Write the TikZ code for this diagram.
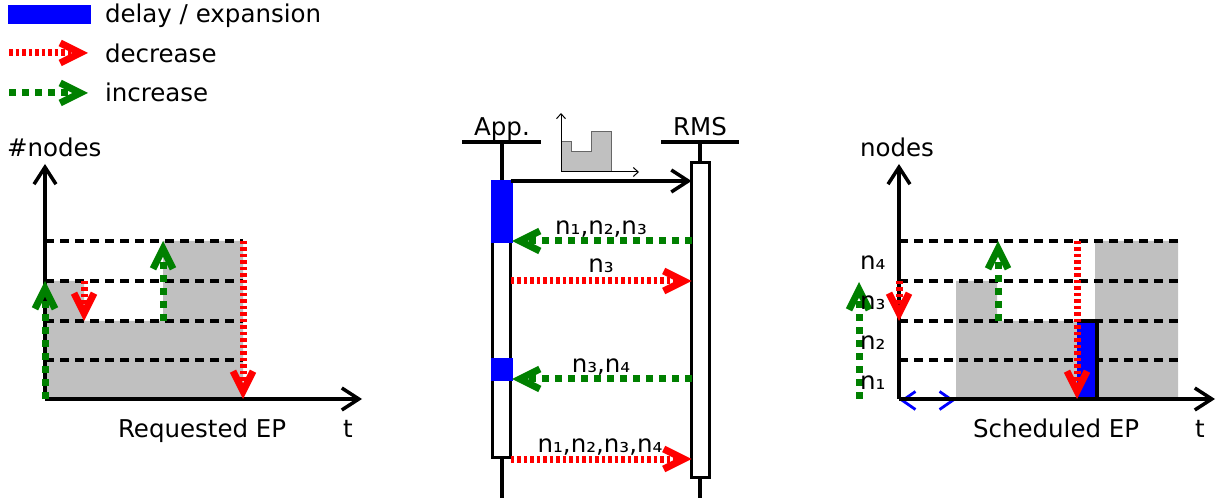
\documentclass[tikz,border=0pt]{standalone}
\usepackage{fontspec}
\setmainfont{DejaVu Sans}
\usetikzlibrary{arrows.meta}
\definecolor{incg}{HTML}{008000}
\definecolor{decr}{HTML}{FF0000}
\definecolor{dlyb}{HTML}{0000FF}
\definecolor{epgray}{HTML}{C0C0C0}
\tikzset{
  lbl/.style={inner sep=0pt, outer sep=0pt, anchor=base west},
  clbl/.style={inner sep=0pt, outer sep=0pt, anchor=base},
  axisline/.style={line width=3.5pt, -{Straight Barb[length=17pt,width=22pt,line width=3.5pt]}},
  gridline/.style={line width=3.3pt, dash pattern=on 9pt off 6pt},
  decarrow/.style={decr, line width=7pt, dash pattern=on 3.5pt off 3pt, -{Straight Barb[length=20pt,width=20pt,line width=7pt]}},
  incarrow/.style={incg, line width=7pt, dash pattern=on 7pt off 6pt, -{Straight Barb[length=20pt,width=20pt,line width=7pt]}},
  msgarrow/.style={line width=3.5pt, -{Straight Barb[length=17pt,width=22pt,line width=3.5pt]}},
  actbox/.style={draw, line width=3.5pt, fill=white, inner sep=0pt, outer sep=0pt, minimum width=18pt},
  lifeline/.style={line width=3.5pt},
  thinarrow/.style={line width=1pt, -{Straight Barb[length=5pt,width=9pt,line width=1pt]}},
  shiftarrow/.style={dlyb, line width=2pt, {Straight Barb[length=13pt,width=18pt,line width=2.8pt]}-{Straight Barb[length=13pt,width=18pt,line width=2.8pt]}}
}
\begin{document}
\begin{tikzpicture}[x=1pt,y=-1pt, font=\fontsize{24.5}{29}\selectfont]
\useasboundingbox (0,0) rectangle (1221,502);

% ---------- legend ----------
\fill[dlyb] (8,5) rectangle (91,24);
\node[lbl] (tdelay) at (105,23) {delay / expansion};
\coordinate (ldA) at (9,53);  \coordinate (ldB) at (88,53);
\coordinate (liA) at (9,93);  \coordinate (liB) at (88,93);
\draw[decarrow] (ldA) -- (ldB);
\draw[incarrow] (liA) -- (liB);
\node[lbl] (tdec) at (105,63) {decrease};
\node[lbl] (tinc) at (105,102) {increase};

% ---------- left chart: requested EP ----------
\fill[epgray] (45,399) -- (45,281) -- (84,281) -- (84,321) -- (163,321) -- (163,241) -- (243,241) -- (243,399) -- cycle;
\foreach \yy in {241,281,321,360} \draw[gridline] (45,\yy) -- (243,\yy);
\coordinate (Lo) at (45,399);
\coordinate (Lyt) at (45,164);
\coordinate (Lxt) at (362,399);
\draw[axisline] (Lo) -- (Lyt);
\draw[axisline] (Lo) -- (Lxt);
\coordinate (La1) at (45,399);  \coordinate (La2) at (45,281);
\coordinate (Lb1) at (84,281);  \coordinate (Lb2) at (84,321);
\coordinate (Lc1) at (163,321); \coordinate (Lc2) at (163,241);
\coordinate (Ld1) at (243,241); \coordinate (Ld2) at (243,399);
\draw[incarrow] (La1) -- (La2);
\draw[decarrow] (Lb1) -- (Lb2);
\draw[incarrow] (Lc1) -- (Lc2);
\draw[decarrow] (Ld1) -- (Ld2);
\node[lbl] (tnodesL) at (7,157) {\#nodes};
\node[lbl] (treq) at (118,438) {Requested EP};
\node[lbl] (ttL) at (343,438) {t};

% ---------- middle: sequence diagram ----------
\node[clbl] (tapp) at (502,136) {App.};
\node[clbl] (trms) at (700,136) {RMS};
\draw[line width=3.5pt] (462,142) -- (541,142);
\draw[line width=3.5pt] (661,142) -- (739,142);
\draw[lifeline] (502,142) -- (502,498);
\draw[lifeline] (700,142) -- (700,498);
\node[actbox, minimum height=276pt] (appbox) at (501.5,319.5) {};
\node[actbox, minimum height=315pt] (rmsbox) at (700.5,320) {};
\fill[dlyb] (491,180) rectangle (513,243);
\fill[dlyb] (491,358) rectangle (513,381);
% icon
\fill[epgray, draw=black!60, line width=1pt] (561,172) -- (561,142) -- (571,142) -- (571,152) -- (591,152) -- (591,132) -- (611,132) -- (611,172) -- cycle;
\coordinate (Io) at (561,172);
\coordinate (Iy) at (561,113);
\coordinate (Ix) at (639,172);
\draw[thinarrow] (Io) -- (Iy);
\draw[thinarrow] (Io) -- (Ix);
% messages
\coordinate (m0) at (0,181);
\coordinate (m1) at (0,241);
\coordinate (m2) at (0,281);
\coordinate (m3) at (0,379);
\coordinate (m4) at (0,459);
\draw[msgarrow] (appbox.east |- m0) -- (rmsbox.west |- m0);
\draw[incarrow] (rmsbox.west |- m1) -- ([xshift=1.5pt]appbox.east |- m1);
\draw[decarrow] (appbox.east |- m2) -- (rmsbox.west |- m2);
\draw[incarrow] (rmsbox.west |- m3) -- ([xshift=1.5pt]appbox.east |- m3);
\draw[decarrow] (appbox.east |- m4) -- (rmsbox.west |- m4);
\node[clbl] (tm1) at (601,235) {n₁,n₂,n₃};
\node[clbl] (tm2) at (601,273) {n₃};
\node[clbl] (tm3) at (601,373) {n₃,n₄};
\node[clbl] (tm4) at (600,453) {n₁,n₂,n₃,n₄};

% ---------- right chart: scheduled EP ----------
\fill[epgray] (956,399) -- (956,281) -- (997,281) -- (997,321) -- (1095,321) -- (1095,241) -- (1178,241) -- (1178,399) -- cycle;
\foreach \yy in {241,281,321,360} \draw[gridline] (899,\yy) -- (1178,\yy);
\fill[dlyb] (1077,321) rectangle (1097,399);
\draw[line width=3.5pt] (1077,321) -- (1097,321) -- (1097,399);
\coordinate (Bl) at (900,400.5);
\coordinate (Br) at (955,400.5);
\draw[shiftarrow] (Bl) -- (Br);
\coordinate (Ro) at (899,399);
\coordinate (Ryt) at (899,164);
\coordinate (Rxt) at (1215,399);
\draw[axisline] (Ro) -- (Ryt);
\draw[axisline] (Ro) -- (Rxt);
\coordinate (Ra1) at (859,399);  \coordinate (Ra2) at (859,282);
\coordinate (Rb1) at (899,281);  \coordinate (Rb2) at (899,321);
\coordinate (Rc1) at (998,321);  \coordinate (Rc2) at (998,241);
\coordinate (Rd1) at (1077,241); \coordinate (Rd2) at (1077,399);
\draw[incarrow] (Ra1) -- (Ra2);
\draw[decarrow] (Rb1) -- (Rb2);
\draw[incarrow] (Rc1) -- (Rc2);
\draw[decarrow] (Rd1) -- (Rd2);
\node[lbl] (tnodesR) at (860,157) {nodes};
\node[lbl] (tn4) at (860,270) {n₄};
\node[lbl] (tn3) at (860,310) {n₃};
\node[lbl] (tn2) at (860,350) {n₂};
\node[lbl] (tn1) at (860,390) {n₁};
\node[lbl] (tsch) at (973,438) {Scheduled EP};
\node[lbl] (ttR) at (1195,438) {t};
\end{tikzpicture}
\end{document}
